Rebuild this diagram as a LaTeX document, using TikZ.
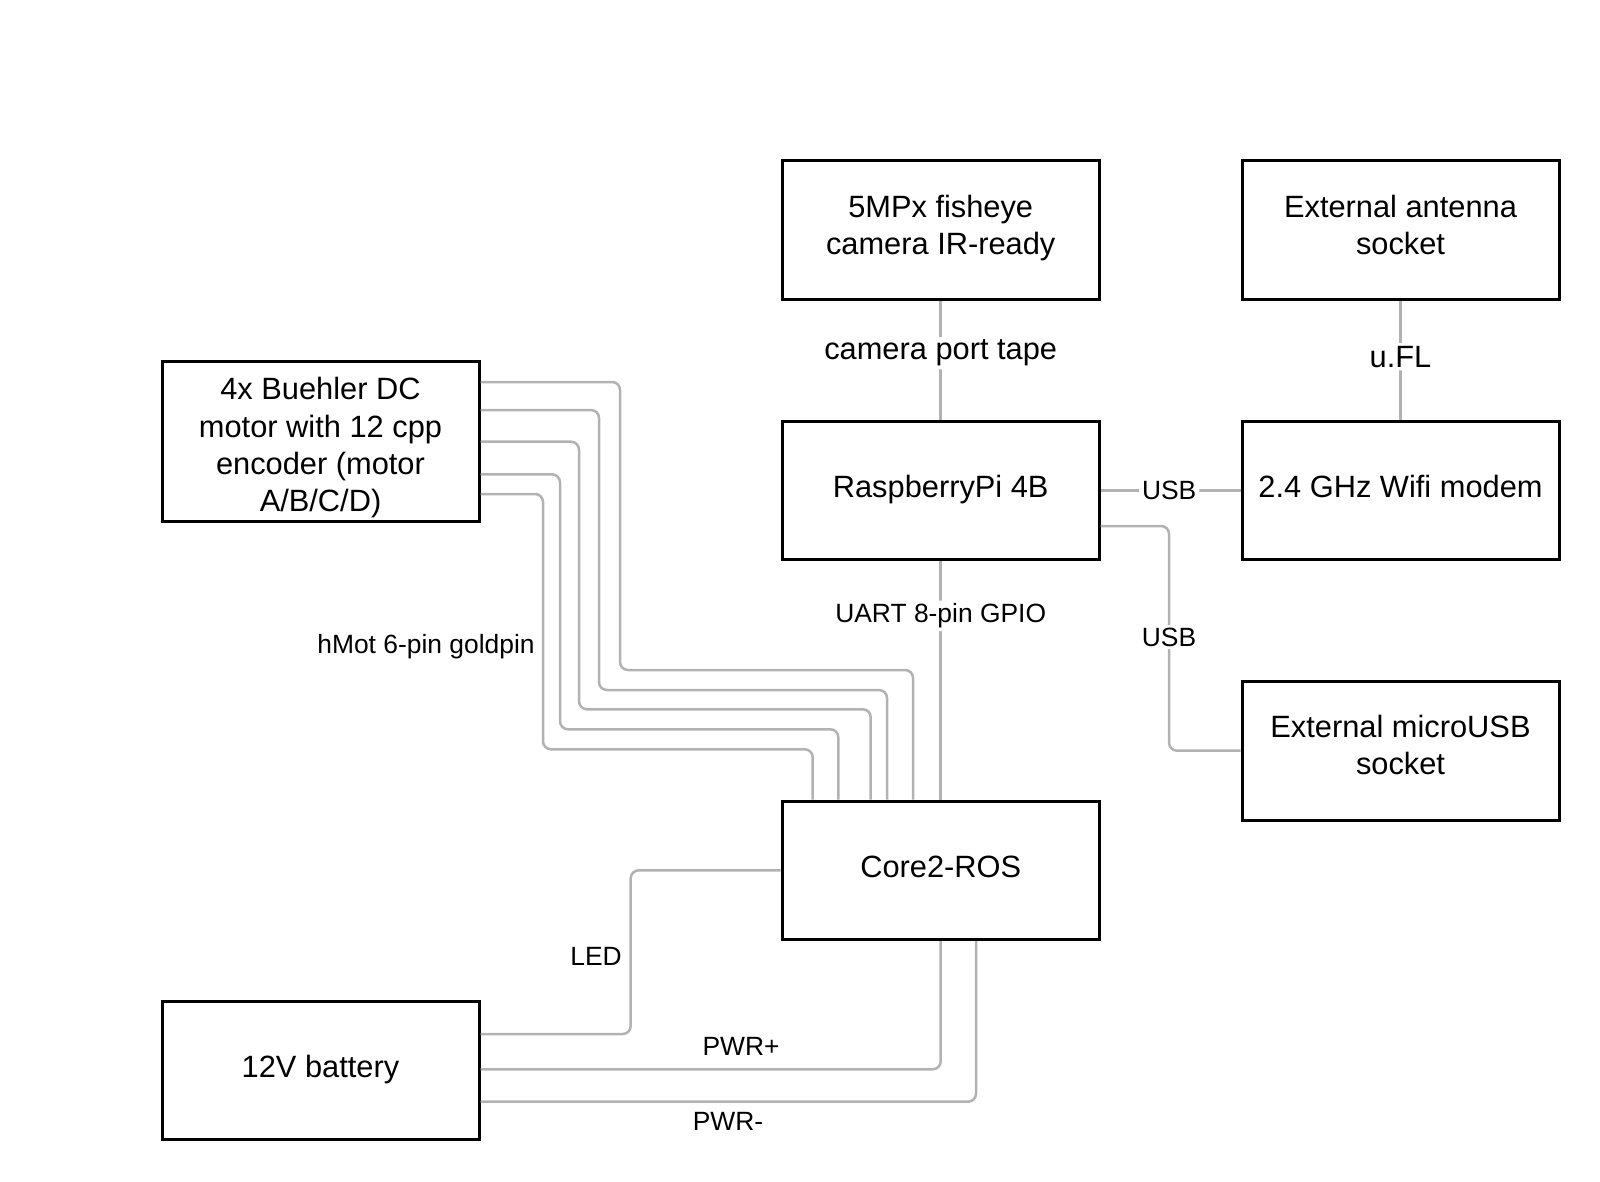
\documentclass[tikz,border=0pt]{standalone}
\usepackage{fontspec}
\setmainfont{Liberation Sans}
\usepackage{xcolor}
\usetikzlibrary{positioning}
\definecolor{wiregray}{RGB}{178,178,178}
\tikzset{
  block/.style={draw=black, line width=1.5pt, minimum width=158.5pt,
    minimum height=69.3pt, align=center, inner sep=0pt,
    font=\fontsize{15.4}{18.7}\selectfont},
  struts/.style={execute at begin node=\strut, execute at end node=\strut},
  wire/.style={draw=wiregray, line width=1.25pt, rounded corners=4pt},
  lbl/.style={font=\fontsize{13.2}{16}\selectfont, inner sep=1.5pt},
  biglbl/.style={font=\fontsize{15.4}{18.7}\selectfont, inner sep=1.5pt},
  onwire/.style={fill=white},
}

\begin{document}
\begin{tikzpicture}[x=0.5pt,y=-0.5pt]
    \useasboundingbox (0,0) rectangle (1600,1182);
    % blocks
    \node[block, struts] (cam) at (940.7,230.3) {5MPx fisheye\\camera IR-ready};
    \node[block, struts] (ant) at (1400.5,230.3) {External antenna\\socket};
    \node[block, struts] (rpi) at (940.7,490.3) {RaspberryPi 4B};
    \node[block, struts] (wifi) at (1400.5,490.3) {2.4 GHz Wifi modem};
    \node[block, struts] (musb) at (1400.5,750.7) {External microUSB\\socket};
    \node[block, struts] (core) at (940.7,870.3) {Core2-ROS};
    \node[block, minimum height=80.3pt] (mot) at (320.5,441.3)
        {\rule{0pt}{17.7pt}4x Buehler DC\\motor with 12 cpp\\encoder (motor\\A/B/C/D)};
    \node[block, struts] (bat) at (320.5,1070.3) {12V battery};
    % raspberry links
    \draw[wire] (cam) -- node[biglbl, onwire, pos=0.44] (camtape) {camera port tape} (rpi);
    \draw[wire] (ant) -- node[biglbl, onwire, pos=0.47] (ufl) {u.FL} (wifi);
    \draw[wire] (rpi) -- node[lbl, onwire, pos=0.49] (usba) {USB} (wifi);
    \draw[wire] (rpi.east |- 0,526) -| (musb.west -| 1169,0) -- (musb.west);
    \node[lbl, onwire] (usbb) at (1169,637) {USB};
    \draw[wire] (rpi) -- node[lbl, onwire, pos=0.23] (uart) {UART 8-pin GPIO} (core);
    % motor wires
    \foreach \ya/\xa/\yb/\xb in {382/620/670/913, 410/599/690/887,
        441.7/579/709.3/870.7, 474.3/560/729.3/838.3, 494/543/749.3/812.7}
        \draw[wire] (mot.east |- 0,\ya) -| (\xa,\yb) -| (core.north -| \xb,0);
    \node[lbl] (hmot) at (426,647) {hMot 6-pin goldpin};
    % battery wires
    \draw[wire] (core.west) -| (630.7,1034) -- (bat.east |- 0,1034);
    \draw[wire] (bat.east |- 0,1069.3) -| (core.south);
    \draw[wire] (bat.east |- 0,1101.7) -| (core.south -| 976,0);
    \node[lbl] (led) at (596,956) {LED};
    \node[lbl] (pwrp) at (741,1046) {PWR+};
    \node[lbl] (pwrm) at (728,1121) {PWR-};
\end{tikzpicture}
\end{document}
